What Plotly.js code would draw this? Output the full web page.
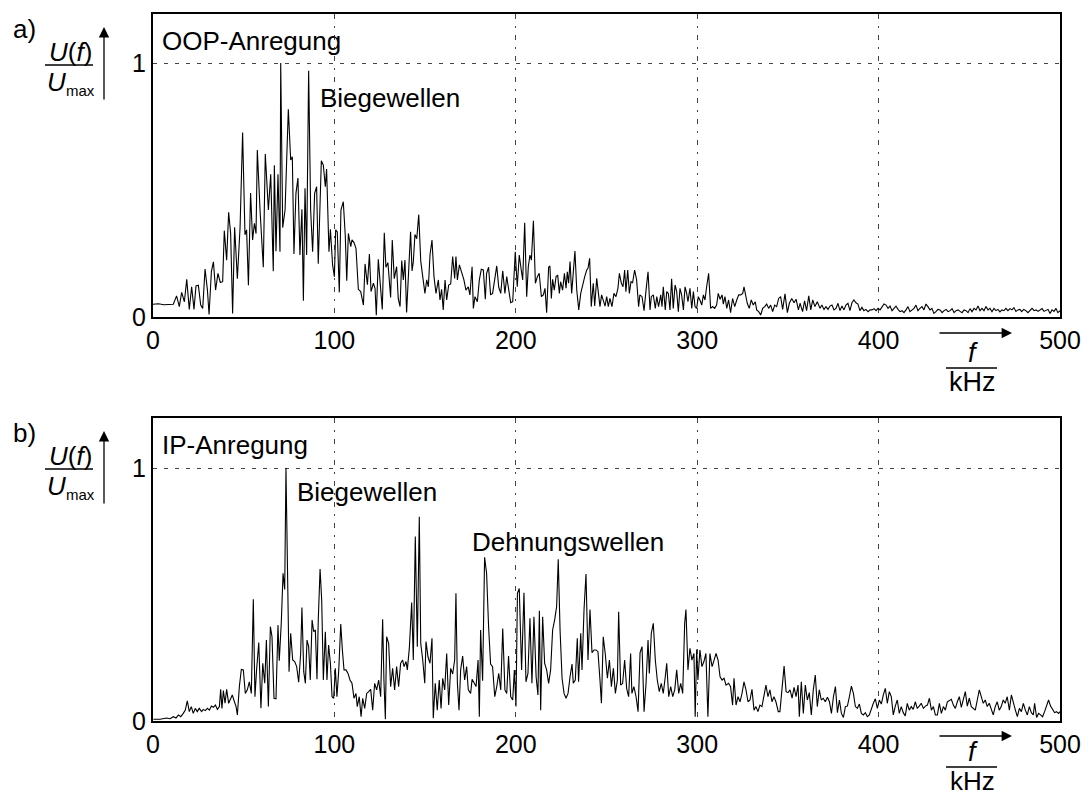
<!DOCTYPE html>
<html><head><meta charset="utf-8">
<script src="https://cdn.plot.ly/plotly-3.0.1.min.js"></script>
<style>html,body{margin:0;padding:0;background:#fff}#chart{width:1088px;height:796px}</style>
</head><body><div id="chart"></div>
<script>
// ---------- a) OOP-Anregung : frequency (kHz) and normalised amplitude ----------
const oopF1 = [
0,3,6,9,11.2,13.0,14.5,15.8,17.3,18.6,
20.0,21.3,22.6,23.7,25.0,26.3,27.4,28.7,30.0,30.9,
32.2,33.3,34.5,35.8,37.1,38.4,39.3,40.6,41.7,42.8,
43.9,45.0,46.5,48.0,49.4,50.7,51.6,52.6,53.8,54.9,
55.9,56.8,57.5,59.0,60.8,61.9,63.6,64.9,66.3,66.9,
67.8,68.9,70.0,70.4,71.5,72.8,74.6,75.9,76.8,77.7,
78.8,79.9,81.0,82.1,82.9,83.8,84.7,85.8,86.9,88.0,
89.1,90.2,91.1,92.8,93.9,95.0,95.7,97.0,97.8,99.0,
100.0,100.7,101.6,102.7,103.6,104.9,106.0,106.8,107.7,109.0,
109.7,110.8,111.9,113.2,114.5,116.0,116.9,118.2,119.3,120.2,
121.5,122.4,123.1,124.2,125.1,126.4,127.5,128.4,129.5,131.0,
131.9,133.0,134.3,135.2,136.2,137.1,138.0,138.9,139.8,140.9,
142.0,142.8,143.5,144.4,145.4,146.5,147.6,148.7,149.9,150.9,
151.8,152.7,153.8,154.9,156.0,157.3,158.2,159.1,160.0,161.0,
161.9,163.0,164.1,165.2,166.3,167.0,167.8,168.9,170.2,171.4,
172.5,173.8];
const oopU1 = [
0.05,0.052,0.048,0.05,0.05,0.083,0.041,0.097,0.060,0.148,
0.030,0.119,0.030,0.122,0.125,0.047,0.034,0.189,0.106,0.010,
0.180,0.217,0.106,0.172,0.136,0.139,0.340,0.224,0.412,0.329,
0.014,0.353,0.151,0.352,0.726,0.324,0.343,0.125,0.488,0.303,
0.369,0.328,0.657,0.421,0.196,0.642,0.421,0.562,0.180,0.597,
0.259,0.562,0.257,1.0,0.352,0.421,0.818,0.618,0.631,0.248,
0.487,0.547,0.244,0.424,0.064,0.507,0.244,0.970,0.421,0.257,
0.487,0.513,0.210,0.615,0.598,0.513,0.583,0.257,0.345,0.205,
0.159,0.343,0.335,0.097,0.421,0.454,0.320,0.143,0.329,0.277,
0.304,0.293,0.270,0.109,0.100,0.047,0.209,0.127,0.248,0.100,
0.133,0.113,0.007,0.227,0.152,0.030,0.332,0.196,0.214,0.077,
0.303,0.151,0.198,0.072,0.041,0.222,0.146,0.224,0.018,0.172,
0.336,0.181,0.217,0.325,0.308,0.403,0.220,0.159,0.093,0.146,
0.119,0.244,0.303,0.159,0.093,0.146,0.067,0.109,0.028,0.146,
0.067,0.126,0.130,0.238,0.152,0.238,0.146,0.205,0.178,0.146,
0.106,0.119];

const oopF2 = [
174.7,175.9,176.6,177.5,178.8,179.9,181.0,182.1,183.2,183.9,
185.0,186.1,187.2,188.4,189.5,190.6,191.7,192.8,194.0,195.0,
196.0,197.2,198.3,199.2,199.7,200.8,201.9,203.0,203.8,204.9,
206.0,206.9,207.8,208.6,209.7,210.8,211.9,212.9,214.1,215.2,
216.1,217.0,218.1,218.8,219.6,220.3,221.2,222.2,223.1,224.0,
224.7,225.8,226.8,227.7,228.4,229.1,229.9,230.8,231.7,232.6,
233.6,234.7,235.8,236.9,238.0,239.1,239.8,240.7,241.6,242.7,
243.5,244.6,245.5,246.4,247.3,248.2,249.2,250.1,251.0,251.9,
253.0,254.1,255.2,256.3,257.1,258.2,259.1,260.0,260.7,261.7,
262.6,263.5,264.4,265.5,266.6,267.7,268.4,269.6,270.7,271.8,
272.9,274.0,274.7,275.8,276.9,277.7,278.7,279.9,280.6,281.3,
282.4,283.2,284.1,285.0,285.9,286.8,287.8,288.7,289.6,290.5,
291.4,292.4,293.3,294.2,294.9,296.0,297.0,297.9,298.8,299.7,
300.6,301.5,302.5,303.4,304.3,305.2,306.3,307.4,308.5,309.6,
310.7,311.6,312.6,313.7,314.4,315.3,316.3,317.3,318.4,319.5,
320.7,321.8,322.9,324.0,325.1,325.8,326.9,327.6,328.7,329.8,
330.9,332.0,332.8,333.9,335.0,336.1,337.2,338.3,339.4,340.5,
341.6,342.7,343.8,344.9];
const oopU2 = [
0.087,0.198,0.034,0.080,0.060,0.146,0.188,0.185,0.070,0.172,
0.196,0.087,0.093,0.152,0.201,0.117,0.093,0.182,0.093,0.159,
0.106,0.056,0.060,0.198,0.257,0.119,0.244,0.185,0.146,0.371,
0.080,0.198,0.244,0.224,0.379,0.133,0.159,0.172,0.080,0.087,
0.113,0.017,0.196,0.201,0.073,0.148,0.106,0.159,0.165,0.093,
0.139,0.106,0.172,0.113,0.178,0.133,0.218,0.093,0.196,0.260,
0.106,0.028,0.093,0.130,0.159,0.185,0.192,0.231,0.041,0.133,
0.043,0.152,0.093,0.041,0.087,0.067,0.043,0.080,0.041,0.073,
0.041,0.093,0.080,0.113,0.172,0.133,0.119,0.185,0.100,0.185,
0.093,0.139,0.135,0.185,0.146,0.041,0.087,0.080,0.025,0.106,
0.178,0.028,0.080,0.087,0.034,0.080,0.041,0.087,0.041,0.119,
0.028,0.100,0.093,0.028,0.150,0.034,0.126,0.100,0.021,0.113,
0.087,0.028,0.119,0.093,0.060,0.113,0.034,0.100,0.041,0.034,
0.080,0.067,0.047,0.087,0.067,0.119,0.172,0.034,0.041,0.034,
0.047,0.093,0.070,0.087,0.051,0.080,0.034,0.067,0.017,0.073,
0.041,0.067,0.087,0.087,0.093,0.119,0.073,0.054,0.034,0.067,
0.047,0.060,0.028,0.021,0.008,0.034,0.041,0.051,0.034,0.047,
0.021,0.047,0.041,0.073];

const oopF3 = [
346.0,347.1,348.4,349.7,350.8,352.1,353.4,354.5,355.8,356.7,
358.1,359.2,360.3,361.5,362.6,363.7,364.9,366.2,367.7,368.7,
369.9,371.0,372.1,373.2,374.3,375.4,376.5,377.6,378.7,379.8,
380.9,382.0,383.1,384.2,385.3,386.4,387.5,388.6,389.7,390.8,
391.9,393.0,394.2,395.3,396.4,397.5,398.6,399.7,400.8,401.9,
403.0,404.1,405.2,406.3,407.4,408.5,409.6,410.7,411.8,412.9,
414.0,415.1,416.2,417.3,418.4,419.5,420.6,421.7,422.8,423.9,
425.0,426.1,427.2,428.3,429.4,430.5,431.6,432.7,433.9,435.0,
436.1,437.2,438.3,439.4,440.5,441.6,442.7,443.8,444.9,446.0,
447.1,448.2,449.3,450.4,451.5,452.6,453.7,454.8,455.9,457.0,
458.1,459.2,460.3,461.4,462.5,463.6,464.7,465.8,466.9,468.0,
469.1,470.2,471.3,472.4,473.5,474.6,475.7,476.8,477.9,478.9,
480.0,481.2,482.3,483.5,484.6,485.7,486.8,487.9,489.0,490.1,
491.2,492.3,493.4,494.5,495.6,496.7,497.8,498.8,500.0];
const oopU3 = [
0.080,0.030,0.091,0.017,0.054,0.073,0.056,0.070,0.028,0.054,
0.021,0.064,0.025,0.083,0.028,0.067,0.041,0.060,0.034,0.047,
0.030,0.041,0.030,0.043,0.047,0.028,0.034,0.054,0.025,0.043,
0.028,0.047,0.054,0.025,0.056,0.067,0.056,0.051,0.025,0.038,
0.025,0.030,0.021,0.028,0.028,0.033,0.025,0.034,0.028,0.041,
0.051,0.047,0.034,0.043,0.025,0.034,0.043,0.030,0.021,0.025,
0.017,0.028,0.041,0.021,0.028,0.034,0.047,0.025,0.034,0.041,
0.028,0.051,0.041,0.028,0.034,0.014,0.021,0.030,0.028,0.017,
0.025,0.030,0.021,0.025,0.033,0.017,0.025,0.028,0.022,0.017,
0.028,0.025,0.017,0.033,0.021,0.034,0.028,0.043,0.025,0.034,
0.025,0.041,0.028,0.034,0.021,0.034,0.025,0.030,0.020,0.028,
0.025,0.034,0.025,0.033,0.028,0.037,0.022,0.028,0.030,0.021,
0.030,0.025,0.017,0.028,0.034,0.025,0.028,0.022,0.028,0.033,
0.022,0.025,0.030,0.014,0.028,0.022,0.034,0.017,0.025];

// ---------- b) IP-Anregung ----------
const ipF1 = [
0.2,3.9,7.5,9.4,11.2,12.7,14.0,15.3,16.7,17.8,
18.9,20.0,21.1,22.2,23.3,24.4,25.5,26.8,27.7,28.8,
30.0,31.1,32.2,33.3,34.4,35.5,36.6,37.3,38.0,38.8,
39.7,40.6,41.7,42.8,43.7,44.7,45.8,46.5,47.6,48.7,
49.8,50.9,52.0,53.1,54.2,55.3,56.2,57.1,58.3,59.5,
60.5,61.6,62.5,63.6,64.7,65.6,66.7,67.8,68.9,69.6,
70.7,71.7,72.6,73.3,74.2,75.0,75.9,77.0,78.1,79.2,
80.3,81.4,82.1,83.1,84.0,84.9,85.8,86.7,87.7,88.6,
89.5,90.4,91.1,92.1,93.0,93.9,95.0,95.9,96.8,97.8,
98.7,99.6,100.5,101.4,102.4,103.5,104.4,105.3,106.4,107.5,
108.6,109.7,110.8,111.9,112.6,113.7,114.7,115.6,116.7,117.8,
118.9,120.0,121.1,122.2,123.3,124.4,125.5,126.6,127.3,128.1,
128.8,129.9,131.0,132.1,133.2,134.3,135.4,136.5,137.6,138.4,
139.5,140.2,141.3,142.6,143.5,144.6,145.7,146.8,147.6,148.7,
149.8,150.5,151.6,152.7,153.8,154.5,155.6,156.7,157.8,158.8,
159.7,160.8,161.9,163.0,164.1,165.2,166.3,167.0,167.8,168.7,
169.6,170.7,171.8,172.9,173.8];
const ipU1 = [
0.007,0.007,0.012,0.009,0.017,0.012,0.024,0.017,0.030,0.043,
0.080,0.037,0.057,0.030,0.050,0.037,0.050,0.037,0.046,0.041,
0.050,0.043,0.059,0.054,0.063,0.046,0.057,0.125,0.050,0.120,
0.070,0.125,0.070,0.086,0.103,0.080,0.057,0.024,0.136,0.204,
0.202,0.109,0.123,0.155,0.109,0.481,0.096,0.202,0.310,0.050,
0.228,0.149,0.320,0.057,0.373,0.333,0.090,0.088,0.379,0.238,
0.386,0.584,0.520,1.0,0.584,0.195,0.347,0.241,0.235,0.215,
0.153,0.267,0.449,0.195,0.149,0.320,0.294,0.162,0.399,0.353,
0.360,0.165,0.399,0.601,0.478,0.162,0.353,0.162,0.300,0.228,
0.096,0.090,0.208,0.096,0.202,0.383,0.281,0.202,0.202,0.188,
0.162,0.149,0.090,0.109,0.057,0.096,0.017,0.090,0.050,0.109,
0.116,0.125,0.043,0.149,0.123,0.162,0.096,0.402,0.162,0.007,
0.333,0.307,0.136,0.208,0.123,0.215,0.136,0.228,0.241,0.215,
0.235,0.202,0.287,0.468,0.241,0.729,0.294,0.808,0.307,0.241,
0.149,0.314,0.254,0.228,0.327,0.011,0.149,0.043,0.162,0.050,
0.169,0.123,0.267,0.063,0.208,0.186,0.241,0.505,0.149,0.043,
0.202,0.257,0.162,0.215,0.123];

const ipF2 = [
175.1,175.9,177.0,178.1,179.2,179.9,180.6,181.7,182.8,183.9,
185.0,186.1,187.2,188.4,189.5,190.6,191.7,192.8,194.0,195.0,
196.0,197.2,198.3,199.2,200.1,200.9,201.9,203.2,204.5,205.6,
206.7,207.8,208.9,210.0,211.2,212.2,213.0,213.7,214.8,215.9,
217.0,218.1,219.2,220.3,221.4,222.5,223.4,224.4,225.5,226.6,
227.7,228.8,229.9,231.0,231.7,232.8,233.9,234.6,235.8,236.5,
237.6,238.7,239.8,240.9,242.0,243.1,244.2,245.3,246.4,247.2,
248.2,249.3,250.5,251.6,252.7,253.8,254.9,256.0,256.7,257.8,
258.9,260.0,261.1,262.2,263.3,264.0,265.1,266.3,267.4,268.5,
269.6,270.7,271.8,272.9,273.6,274.7,275.8,276.9,278.0,279.1,
280.2,281.3,282.4,283.2,284.3,285.4,286.5,287.6,288.7,289.8,
290.9,292.0,293.1,293.8,294.9,296.0,297.1,298.2,298.9,299.7,
300.4,301.5,302.6,303.7,304.8,305.9,307.0,308.2,309.3,310.4,
311.5,312.6,313.7,314.8,315.9,317.3,318.4,319.5,320.3,321.4,
322.5,323.6,324.7,325.8,326.9,328.0,329.1,330.2,331.3,332.4,
333.5,334.6,335.7,336.8,337.9,339.0,340.1,341.2,342.3,343.4,
344.7];
const ipU2 = [
0.109,0.165,0.149,0.136,0.241,0.017,0.360,0.159,0.647,0.584,
0.373,0.225,0.215,0.096,0.136,0.188,0.123,0.366,0.123,0.109,
0.257,0.096,0.083,0.202,0.057,0.505,0.524,0.202,0.507,0.155,
0.188,0.406,0.149,0.412,0.175,0.103,0.436,0.043,0.412,0.228,
0.202,0.149,0.202,0.360,0.399,0.452,0.639,0.360,0.169,0.109,
0.090,0.109,0.175,0.225,0.149,0.162,0.327,0.155,0.347,0.202,
0.439,0.581,0.241,0.441,0.270,0.281,0.281,0.274,0.162,0.070,
0.333,0.267,0.169,0.241,0.136,0.208,0.109,0.162,0.432,0.142,
0.149,0.241,0.129,0.096,0.267,0.109,0.136,0.096,0.037,0.270,
0.294,0.037,0.149,0.320,0.188,0.347,0.386,0.241,0.162,0.116,
0.149,0.109,0.175,0.228,0.096,0.136,0.096,0.123,0.202,0.109,
0.149,0.109,0.386,0.441,0.202,0.287,0.241,0.267,0.017,0.283,
0.162,0.281,0.215,0.235,0.267,0.017,0.267,0.215,0.241,0.267,
0.241,0.175,0.162,0.169,0.142,0.149,0.136,0.063,0.169,0.063,
0.096,0.076,0.109,0.155,0.123,0.076,0.083,0.125,0.043,0.057,
0.037,0.063,0.057,0.096,0.142,0.096,0.123,0.076,0.096,0.076,
0.037];

const ipF3 = [
345.6,346.8,347.9,349.0,350.1,351.2,352.3,353.4,354.5,355.6,
356.3,357.4,358.5,359.6,360.7,361.8,362.9,364.0,365.1,366.2,
367.3,368.4,369.5,370.6,371.8,372.9,374.0,375.1,376.2,377.3,
378.4,379.5,380.6,381.7,382.8,383.9,385.0,386.1,387.2,388.3,
389.4,390.5,391.6,392.7,393.8,394.9,396.0,397.1,398.2,399.3,
400.4,401.5,402.6,403.7,404.8,405.9,407.0,408.1,409.2,410.3,
411.4,412.5,413.6,414.7,415.8,416.9,418.0,419.1,420.2,421.3,
422.4,423.5,424.7,425.8,426.9,428.0,429.1,430.2,431.3,432.4,
433.5,434.6,435.7,436.8,437.9,439.0,440.1,441.2,442.3,443.4,
444.5,445.6,446.7,447.8,448.9,450.0,451.1,452.2,453.3,454.4,
455.5,456.6,457.7,458.8,459.9,461.0,462.1,463.2,464.3,465.4,
466.5,467.6,468.7,469.8,470.9,472.1,473.2,474.3,475.4,476.5,
477.6,478.7,479.8,480.9,482.0,483.1,484.2,485.3,486.0,487.1,
488.2,489.3,490.4,491.5,492.6,493.7,494.8,495.9,497.0,498.1,
499.2,500.0];
const ipU3 = [
0.037,0.149,0.217,0.116,0.112,0.123,0.090,0.133,0.096,0.142,
0.017,0.155,0.030,0.142,0.083,0.112,0.024,0.123,0.182,0.057,
0.123,0.083,0.090,0.076,0.094,0.076,0.030,0.096,0.136,0.033,
0.083,0.030,0.014,0.057,0.059,0.096,0.138,0.109,0.057,0.050,
0.067,0.030,0.024,0.033,0.017,0.024,0.050,0.070,0.088,0.050,
0.083,0.067,0.103,0.129,0.070,0.116,0.096,0.024,0.059,0.083,
0.030,0.057,0.033,0.020,0.070,0.043,0.057,0.046,0.076,0.050,
0.059,0.070,0.050,0.059,0.063,0.090,0.043,0.057,0.024,0.024,
0.070,0.030,0.057,0.043,0.076,0.083,0.086,0.063,0.050,0.076,
0.096,0.054,0.083,0.116,0.059,0.090,0.057,0.050,0.043,0.083,
0.123,0.096,0.070,0.083,0.057,0.070,0.043,0.024,0.057,0.076,
0.043,0.057,0.083,0.070,0.096,0.043,0.103,0.070,0.043,0.017,
0.050,0.037,0.070,0.043,0.024,0.057,0.033,0.024,0.070,0.014,
0.030,0.024,0.017,0.037,0.057,0.083,0.059,0.043,0.033,0.037,
0.030,0.037];

const xTicks = [0, 100, 200, 300, 400, 500];
const yTicks = [0, 1];
const panelTags = ['a)', 'b)'];
const panelTitles = ['OOP-Anregung', 'IP-Anregung'];

// ---------- layout helpers ----------
const W = 1088, H = 796;
const L = 153, R = 1060, T = 14, B = 721;
const px = x => (x - L) / (R - L);
const py = y => (B - y) / (B - T);
const FONT = 'Liberation Sans, Arial, Helvetica, sans-serif';

const oopF = oopF1.concat(oopF2, oopF3), oopU = oopU1.concat(oopU2, oopU3);
const ipF = ipF1.concat(ipF2, ipF3), ipU = ipU1.concat(ipU2, ipU3);

const traces = [
  {x: oopF, y: oopU, xaxis: 'x', yaxis: 'y', mode: 'lines', line: {color: '#000', width: 1.1}, hoverinfo: 'skip'},
  {x: ipF, y: ipU, xaxis: 'x2', yaxis: 'y2', mode: 'lines', line: {color: '#000', width: 1.1}, hoverinfo: 'skip'}
];

const xa = {
  range: [0, 500], tickvals: xTicks, ticktext: xTicks.map(String), ticks: '',
  showgrid: true, gridcolor: '#444', gridwidth: 1, griddash: '5px,7px,2px,7px',
  showline: true, mirror: true, linecolor: '#000', linewidth: 2, zeroline: false,
  tickfont: {size: 25, family: FONT, color: '#000'}, ticklabelstandoff: 0, fixedrange: true
};
const ya = {
  tickvals: yTicks, ticktext: yTicks.map(String), ticks: '',
  showgrid: true, gridcolor: '#444', gridwidth: 1, griddash: '4px,7px',
  showline: true, mirror: true, linecolor: '#000', linewidth: 2, zeroline: false,
  tickfont: {size: 25, family: FONT, color: '#000'}, ticklabelstandoff: 0, fixedrange: true
};

const ann = [];
const shapes = [];
function txt(t, x, y, opts, size) {
  ann.push(Object.assign({text: t, x: px(x), y: py(y), xref: 'paper', yref: 'paper',
    showarrow: false, xanchor: 'center', yanchor: 'middle', borderpad: 0,
    font: {size: size || 26, family: FONT, color: '#000'}}, opts || {}));
}
function arrow(x1, y1, x0, y0) {
  ann.push({text: '', x: px(x1), y: py(y1), xref: 'paper', yref: 'paper',
    ax: x0 - x1, ay: y0 - y1, axref: 'pixel', ayref: 'pixel',
    showarrow: true, arrowhead: 2, arrowsize: 1.6, arrowwidth: 1.3, arrowcolor: '#000', standoff: 0});
}
function hline(x0, x1, y) {
  shapes.push({type: 'line', xref: 'paper', yref: 'paper', x0: px(x0), x1: px(x1), y0: py(y), y1: py(y),
    line: {color: '#000', width: 1.3}});
}

[[14, 317], [418, 721]].forEach(([top, bot], i) => {
  txt(panelTags[i], 12, top + 15, {xanchor: 'left'});
  txt('<i>U</i>(<i>f</i>)', 70, top + 38);
  hline(45, 93, top + 51);
  txt('<i>U</i>', 56, top + 68);
  txt('max', 80, top + 76, {}, 15);
  arrow(104, top + 13, 104, top + 87);
  txt(panelTitles[i], 161, top + 27, {xanchor: 'left'});
});
// x-axis quantity label f / kHz (top panel)
arrow(1012, 333, 938, 333);
txt('<i>f</i>', 973, 353, {}, 27);
hline(946, 997, 368);
txt('kHz', 972, 382, {}, 27);
// x-axis quantity label f / kHz (bottom panel, close to the lower edge)
arrow(1012, 736, 938, 736);
txt('<i>f</i>', 973, 752, {}, 27);
hline(946, 997, 767);
txt('kHz', 972, 797, {yanchor: 'bottom'}, 26);

txt('Biegewellen', 319, 98, {xanchor: 'left'});
txt('Biegewellen', 296, 492, {xanchor: 'left'});
txt('Dehnungswellen', 471, 542, {xanchor: 'left'});

const layout = {
  width: W, height: H, margin: {l: L, r: W - R, t: T, b: H - B, pad: 0},
  paper_bgcolor: '#fff', plot_bgcolor: '#fff', showlegend: false,
  font: {family: FONT, size: 25, color: '#000'},
  xaxis: Object.assign({}, xa, {anchor: 'y', domain: [0, 1]}),
  xaxis2: Object.assign({}, xa, {anchor: 'y2', domain: [0, 1]}),
  yaxis: Object.assign({}, ya, {anchor: 'x', domain: [py(317), 1], range: [0, 1.193]}),
  yaxis2: Object.assign({}, ya, {anchor: 'x2', domain: [0, py(418)], range: [0, 1.198]}),
  annotations: ann, shapes: shapes
};

Plotly.newPlot('chart', traces, layout, {displayModeBar: false, staticPlot: true});
</script></body></html>
